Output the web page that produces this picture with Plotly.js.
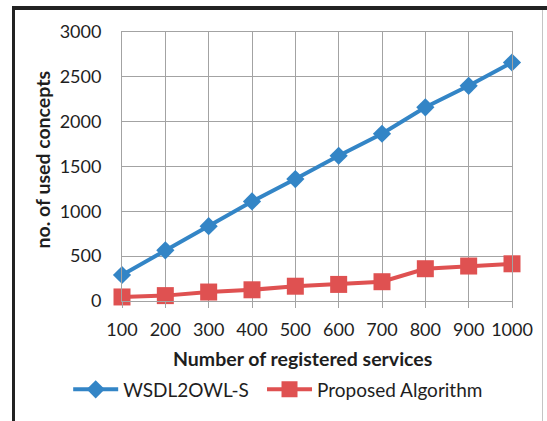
<!DOCTYPE html>
<html>
<head>
<meta charset="utf-8">
<script src="https://cdn.plot.ly/plotly-3.0.1.min.js"></script>
<style>
  html, body { margin: 0; padding: 0; background: #ffffff; }
  #wrap { position: relative; width: 547px; height: 421px; overflow: hidden; }
  #chart { position: absolute; left: 0; top: 0; width: 547px; height: 421px; }
  #frame { position: absolute; left: 12px; top: 9px; width: 527px; height: 430px;
           border-left: 3px solid #222; border-right: 1px solid #c4c4c4;
           pointer-events: none; }
  #topbar { position: absolute; left: 12px; top: 6px; width: 540px; height: 4px;
            background: #222; pointer-events: none; }
</style>
</head>
<body>
<div id="wrap">
  <div id="chart"></div>
  <div id="frame"></div>
  <div id="topbar"></div>
</div>
<script>
const services = [100, 200, 300, 400, 500, 600, 700, 800, 900, 1000];
const wsdl2owls = [290, 565, 835, 1110, 1360, 1620, 1865, 2160, 2400, 2660];
const proposed = [45, 60, 100, 125, 165, 185, 215, 360, 390, 415];
const yTicks = [0, 500, 1000, 1500, 2000, 2500, 3000];
const seriesNames = ['WSDL2OWL-S', 'Proposed Algorithm'];
const xTitle = 'Number of registered services';
const yTitle = 'no. of used concepts';

const font = 'Lato, "Open Sans", sans-serif';
const textColor = '#1e1e1e';

const traces = [
  {
    x: services, y: wsdl2owls, name: seriesNames[0], type: 'scatter', mode: 'lines+markers',
    line: {color: '#3385c6', width: 4},
    marker: {symbol: 'diamond', size: 14, color: '#3385c6'},
    cliponaxis: false, legend: 'legend'
  },
  {
    x: services, y: proposed, name: seriesNames[1], type: 'scatter', mode: 'lines+markers',
    line: {color: '#df5151', width: 4},
    marker: {symbol: 'square', size: 17, color: '#df5151'},
    cliponaxis: false, legend: 'legend2'
  }
];

const legendFont = {family: font, size: 19, color: textColor};

const layout = {
  width: 547, height: 421,
  margin: {l: 122, r: 35, t: 32, b: 114},
  paper_bgcolor: '#ffffff', plot_bgcolor: '#ffffff',
  font: {family: font, size: 18, color: textColor},
  showlegend: true,
  legend: {
    orientation: 'h', x: -0.138, xanchor: 'left', y: -0.329, yanchor: 'middle',
    font: legendFont, bgcolor: 'rgba(0,0,0,0)', itemwidth: 45
  },
  legend2: {
    orientation: 'h', x: 0.359, xanchor: 'left', y: -0.329, yanchor: 'middle',
    font: legendFont, bgcolor: 'rgba(0,0,0,0)', itemwidth: 45
  },
  xaxis: {
    range: [100, 1000], tickvals: services, ticktext: services.map(String),
    showgrid: true, gridcolor: '#a3a3a3', gridwidth: 1,
    showline: true, linecolor: '#a3a3a3', linewidth: 1, mirror: true,
    ticks: 'outside', ticklen: 6, tickcolor: '#a3a3a3', tickwidth: 1,
    ticklabelstandoff: 6,
    zeroline: false, fixedrange: true
  },
  yaxis: {
    range: [0, 3000], tickvals: yTicks, ticktext: yTicks.map(String),
    showgrid: true, gridcolor: '#a3a3a3', gridwidth: 1,
    showline: true, linecolor: '#a3a3a3', linewidth: 1, mirror: true,
    ticks: '', ticklabelstandoff: 16,
    zeroline: false, fixedrange: true
  },
  annotations: [
    {text: '<b>' + xTitle + '</b>', xref: 'paper', yref: 'paper', x: 0.4636, y: -0.2145,
     xanchor: 'center', yanchor: 'middle', showarrow: false,
     font: {family: font, size: 19.5, color: textColor}},
    {text: '<b>' + yTitle + '</b>', xref: 'paper', yref: 'paper', x: -0.2026, y: 0.526,
     xanchor: 'center', yanchor: 'middle', showarrow: false, textangle: -90,
     font: {family: font, size: 19.5, color: textColor}}
  ]
};

Plotly.newPlot('chart', traces, layout, {displayModeBar: false, staticPlot: true});
</script>
</body>
</html>
